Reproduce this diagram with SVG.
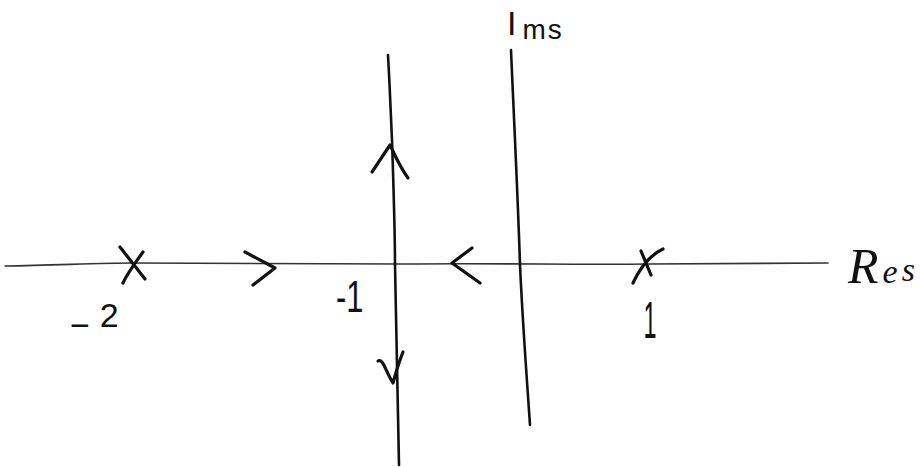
<svg xmlns="http://www.w3.org/2000/svg" width="920" height="467" viewBox="0 0 920 467">
<style>
.ax{fill:none;stroke:#333;stroke-width:1.6;stroke-linecap:round;stroke-linejoin:round}
.ln{fill:none;stroke:#111;stroke-width:2.6;stroke-linecap:round;stroke-linejoin:round}
.mk{fill:none;stroke:#111;stroke-width:3.2;stroke-linecap:round;stroke-linejoin:round}
.lb{font-family:"Liberation Sans",sans-serif;fill:#111}
.it{font-family:"Liberation Serif",serif;font-style:italic;fill:#111}
</style>
<rect width="920" height="467" fill="#fff"/>
<g id="real-axis">
<path class="ax" d="M5,266 C60,265 100,263 133,263 C250,264 350,264 400,264 C500,263 580,265 648,264 C720,264 780,263 828,263"/>
<text class="it" x="848" y="283" font-size="50">R<tspan font-size="34" dx="4">e</tspan><tspan font-size="34" dx="4" dy="-2">s</tspan></text>
</g>
<g id="imag-axis">
<path class="ln" d="M511,50 C514,120 518,200 520,265 C523,330 527,380 530,425"/>
<text class="lb" x="507" y="35" font-size="34">I<tspan font-size="28" dx="6" dy="4" letter-spacing="2">ms</tspan></text>
</g>
<g id="locus-vertical">
<path class="ln" d="M388,55 C390,90 391,120 392,140 C394,200 395,240 395,265 C396,300 397,380 399,465"/>
</g>
<g id="pole-m2">
<path class="mk" d="M120,247 L145,279"/>
<path class="mk" d="M143,252 C136,262 128,272 123,283"/>
<text class="lb" x="70" y="327" font-size="34"><tspan dy="10">−</tspan><tspan dy="-10" dx="10">2</tspan></text>
</g>
<g id="pole-1">
<path class="mk" d="M641,251 L651,275"/>
<path class="mk" d="M663,249 C650,255 640,268 633,283"/>
<text class="lb" x="650" y="338" font-size="52" transform="translate(650 0) scale(0.45 1) translate(-650 0)" text-anchor="middle">1</text>
</g>
<g id="label-m1">
<text class="lb" x="336" y="312" font-size="44" transform="translate(336 0) scale(0.7 1) translate(-336 0)">-1</text>
</g>
<g id="connectors">
<path class="mk" d="M372,172 L390,145 C396,158 402,170 408,178"/>
<path class="mk" d="M378,361 C383,358 385,370 393,383 C396,372 399,362 403,352"/>
<path class="mk" d="M245,252 L275,268 L253,285"/>
<path class="mk" d="M472,248 L452,263 L480,283"/>
</g>
</svg>
